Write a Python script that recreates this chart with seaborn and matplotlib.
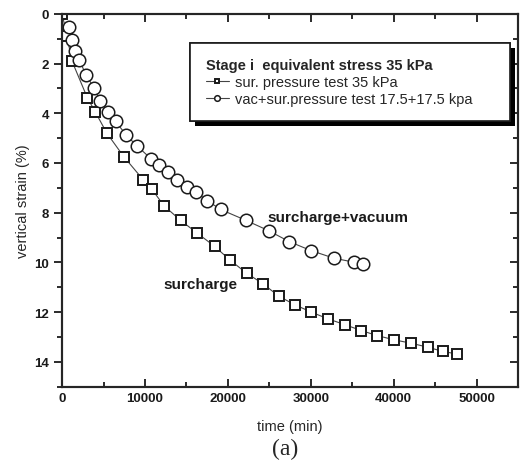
import numpy as np
import matplotlib.pyplot as plt
import matplotlib.patheffects as pe
import seaborn as sns

sns.set_style("ticks")
plt.rcParams['font.family'] = ['Liberation Sans', 'DejaVu Sans']

# surcharge only test
sur_time = [0, 600, 1170, 3050, 3980, 5380, 7430, 9800, 10800, 12290, 14300, 16300,
            18390, 20240, 22250, 24250, 26150, 28070, 30080, 32090, 34100, 36100,
            38000, 40040, 42130, 44140, 45940, 47630]
sur_strain = [0.0, 0.9, 1.88, 3.38, 3.93, 4.79, 5.74, 6.68, 7.04, 7.72, 8.31, 8.82,
              9.35, 9.9, 10.43, 10.86, 11.36, 11.7, 12.0, 12.27, 12.5, 12.74,
              12.94, 13.11, 13.25, 13.41, 13.58, 13.68]

# vacuum + surcharge test
vac_time = [800, 1170, 1570, 2050, 2890, 3860, 4580, 5580, 6470, 7710, 9000, 10720,
            11720, 12730, 13820, 15020, 16100, 17510, 19120, 22130, 24900, 27390,
            30000, 32810, 35220, 36300]
vac_strain = [0.55, 1.07, 1.5, 1.85, 2.45, 2.99, 3.49, 3.95, 4.33, 4.87, 5.3, 5.83,
              6.07, 6.37, 6.68, 6.97, 7.17, 7.51, 7.87, 8.3, 8.72, 9.16,
              9.52, 9.83, 9.99, 10.06]

fig = plt.figure(figsize=(5.26, 4.77), dpi=100)
ax = fig.add_axes([0.118, 0.187, 0.867, 0.782])

ink = '#1a1a1a'
sns.lineplot(x=sur_time, y=sur_strain, ax=ax, sort=False, marker='s', markersize=7.5,
             markerfacecolor='white', markeredgecolor=ink, markeredgewidth=1.4,
             color='#444444', linewidth=0.8, label='sur. pressure test 35 kPa')
sns.lineplot(x=vac_time, y=vac_strain, ax=ax, sort=False, marker='o', markersize=9,
             markerfacecolor='white', markeredgecolor=ink, markeredgewidth=1.1,
             color='#444444', linewidth=0.8, label='vac+sur.pressure test 17.5+17.5 kpa')
handles, labels = ax.get_legend_handles_labels()
if ax.get_legend() is not None:
    ax.get_legend().remove()

ax.set_xlim(0, 55000)
ax.set_ylim(15, 0)
ax.set_xticks(np.arange(0, 50001, 10000))
ax.set_xticks(np.arange(0, 55001, 5000), minor=True)
ax.set_yticks(np.arange(0, 15, 2))
ax.set_yticks(np.arange(0, 16, 1), minor=True)

for s in ax.spines.values():
    s.set_linewidth(1.5)
    s.set_color(ink)

ax.tick_params(axis='x', which='both', direction='in', top=True, width=1.3, colors=ink)
ax.tick_params(axis='x', which='major', length=6)
ax.tick_params(axis='x', which='minor', length=3.5)
ax.tick_params(axis='y', which='both', direction='out', width=1.3, colors=ink)
ax.tick_params(axis='y', which='major', length=6)
ax.tick_params(axis='y', which='minor', length=3.5)
for lab in ax.get_xticklabels() + ax.get_yticklabels():
    lab.set_fontsize(9.5)
    lab.set_fontweight('bold')

# right side ticks point inward
ax2 = ax.twinx()
ax2.set_ylim(15, 0)
ax2.set_yticks(np.arange(0, 15, 2))
ax2.set_yticks(np.arange(0, 16, 1), minor=True)
ax2.tick_params(axis='y', which='both', direction='in', width=1.3, labelright=False, colors=ink)
ax2.tick_params(axis='y', which='major', length=6)
ax2.tick_params(axis='y', which='minor', length=3.5)
for s in ax2.spines.values():
    s.set_linewidth(1.5)

ax.set_xlabel('time (min)', fontsize=10.5, labelpad=11)
ax.set_ylabel('vertical strain (%)', fontsize=10.5, labelpad=3)

ax.text(24800, 8.17, 'surcharge+vacuum', fontsize=11, fontweight='bold', va='center', color=ink)
ax.text(12170, 10.86, 'surcharge', fontsize=11, fontweight='bold', va='center', color=ink)

leg = ax2.legend(handles, labels, title='Stage i  equivalent stress 35 kPa',
                 loc='upper left', bbox_to_anchor=(0.281, 0.922, 0.702, 0.0), mode='expand',
                 fontsize=10.5, title_fontproperties={'weight': 'bold', 'size': 10.5},
                 alignment='left', markerscale=0.45, handlelength=1.6, handletextpad=0.4,
                 labelspacing=0.2, borderpad=1.05, fancybox=False, framealpha=1,
                 edgecolor=ink, borderaxespad=0)
leg.get_frame().set_linewidth(1.2)
leg.get_frame().set_path_effects([
    pe.withSimplePatchShadow(offset=(3.5, -3.5), shadow_rgbFace='black', alpha=1),
    pe.Normal()])

fig.text(0.542, 0.057, '(a)', fontsize=17, family='Liberation Serif', ha='center', va='center')

fig.savefig('out.png', dpi=100)
